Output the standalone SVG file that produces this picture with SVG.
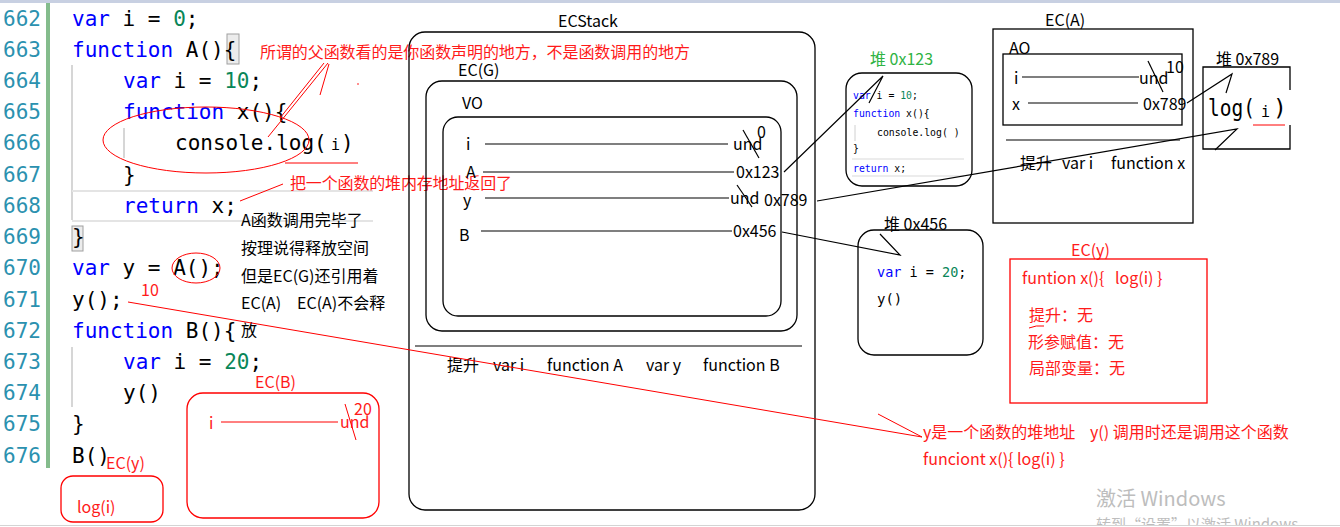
<svg xmlns="http://www.w3.org/2000/svg" width="1340" height="527" viewBox="0 0 1340 527">
<style>
.code{font-family:"DejaVu Sans Mono",monospace;font-size:21px;fill:#000}
.ln{font-family:"DejaVu Sans Mono",monospace;font-size:21px;fill:#2b91af}
.kw{fill:#0000ff}
.num{fill:#098658}
.lbl{font-family:"Noto Sans CJK SC",sans-serif;font-size:16px;fill:#000}
.red{font-family:"Noto Sans CJK SC",sans-serif;font-size:16px;fill:#ff1a1a}
.box{fill:none;stroke:#000;stroke-width:1.3}
.rbox{fill:none;stroke:#ff0000;stroke-width:1.3}
.ln1{stroke:#000;stroke-width:1.2;fill:none}
.rl{stroke:#ff0000;stroke-width:1;fill:none}
.guide{stroke:#c8c8c8;stroke-width:1.5}
.tiny{font-family:"DejaVu Sans Mono",monospace;font-size:9.8px;fill:#000}
.wm{font-family:"Noto Sans CJK SC",sans-serif;fill:#bdbdbd}
</style>
<rect width="1340" height="527" fill="#fff"/>
<rect x="0" y="0" width="1340" height="3" fill="#c8d0e2"/>
<rect x="46" y="3" width="4" height="465" fill="#84bc8c"/>

<g id="code">
<rect x="227" y="34" width="12" height="30" fill="#ececec" stroke="#a0a0a0"/>
<rect x="72" y="226" width="11" height="25" fill="#ececec" stroke="#a0a0a0"/>
<line class="guide" x1="72" y1="65" x2="72" y2="220"/>
<line class="guide" x1="124" y1="128" x2="124" y2="158"/>
<line class="guide" x1="72" y1="347" x2="72" y2="407"/>
<line x1="72" y1="191" x2="373" y2="191" stroke="#e4e4e4" stroke-width="2"/>
<line x1="72" y1="221" x2="373" y2="221" stroke="#e4e4e4" stroke-width="2"/>
<text class="ln" x="3" y="26">662</text>
<text class="ln" x="3" y="57">663</text>
<text class="ln" x="3" y="88">664</text>
<text class="ln" x="3" y="119">665</text>
<text class="ln" x="3" y="150">666</text>
<text class="ln" x="3" y="182">667</text>
<text class="ln" x="3" y="213">668</text>
<text class="ln" x="3" y="244">669</text>
<text class="ln" x="3" y="275">670</text>
<text class="ln" x="3" y="307">671</text>
<text class="ln" x="3" y="338">672</text>
<text class="ln" x="3" y="369">673</text>
<text class="ln" x="3" y="400">674</text>
<text class="ln" x="3" y="431">675</text>
<text class="ln" x="3" y="463">676</text>
<text class="code" x="72" y="26"><tspan class="kw">var</tspan> i = <tspan class="num">0</tspan>;</text>
<text class="code" x="72" y="57"><tspan class="kw">function</tspan> A(){</text>
<text class="code" x="123" y="88"><tspan class="kw">var</tspan> i = <tspan class="num">10</tspan>;</text>
<text class="code" x="123" y="119"><tspan class="kw">function</tspan> x(){</text>
<text class="code" x="175" y="150">console.log(<tspan x="331" font-size="15">i</tspan><tspan x="341">)</tspan></text>
<text class="code" x="123" y="182">}</text>
<text class="code" x="123" y="213"><tspan class="kw">return</tspan> x;</text>
<text class="code" x="72" y="244">}</text>
<text class="code" x="72" y="275"><tspan class="kw">var</tspan> y = A();</text>
<text class="code" x="72" y="307">y();</text>
<text class="code" x="72" y="338"><tspan class="kw">function</tspan> B(){</text>
<text class="code" x="123" y="369"><tspan class="kw">var</tspan> i = <tspan class="num">20</tspan>;</text>
<text class="code" x="123" y="400">y()</text>
<text class="code" x="72" y="431">}</text>
<text class="code" x="72" y="463">B()</text>
</g>

<g id="notes-left">
<text class="red" x="260" y="58" textLength="430">所谓的父函数看的是你函数声明的地方，不是函数调用的地方</text>
<line class="rl" x1="328" y1="63" x2="268" y2="137"/>
<line class="rl" x1="324" y1="63" x2="280" y2="118"/>
<line class="rl" x1="329" y1="64" x2="320" y2="95"/>
<circle cx="358" cy="84" r="0.8" fill="#f00"/>
<ellipse class="rl" cx="206" cy="140" rx="103" ry="33"/>
<line class="rl" x1="285" y1="163" x2="358" y2="163"/>
<text class="red" x="290" y="189" textLength="222">把一个函数的堆内存地址返回了</text>
<line class="rl" x1="283" y1="184" x2="240" y2="201"/>
<text class="lbl" x="241" y="226">A函数调用完毕了</text>
<text class="lbl" x="241" y="254">按理说得释放空间</text>
<text class="lbl" x="241" y="282">但是EC(G)还引用着</text>
<text class="lbl" x="241" y="309">EC(A)<tspan x="297">EC(A)不会释</tspan></text>
<text class="lbl" x="241" y="336">放</text>
<ellipse class="rl" cx="196" cy="268" rx="24" ry="15"/>
<text class="red" x="141" y="296" font-size="15">10</text>
</g>

<g id="ec-b">
<text class="red" x="255" y="388">EC(B)</text>
<rect class="rbox" x="187" y="393" width="192" height="125" rx="16"/>
<text class="red" x="209" y="429">i</text>
<line class="rl" x1="221" y1="422" x2="338" y2="422"/>
<text class="red" x="340" y="428">und</text>
<text class="red" x="354" y="415">20</text>
<line class="rl" x1="345" y1="404" x2="356" y2="440"/>
</g>

<g id="ec-y-small">
<text class="red" x="106" y="469">EC(y)</text>
<rect class="rbox" x="61" y="476" width="102" height="46" rx="12"/>
<text class="red" x="77" y="513">log(i)</text>
</g>

<g id="ecstack">
<text class="lbl" x="558" y="27">ECStack</text>
<rect class="box" x="409" y="32" width="406" height="478" rx="16"/>
<line class="ln1" x1="415" y1="346" x2="802" y2="346"/>
<text class="lbl" y="371"><tspan x="447">提升</tspan><tspan x="493">var i</tspan><tspan x="547">function A</tspan><tspan x="646">var y</tspan><tspan x="703">function B</tspan></text>
</g>

<g id="ec-g">
<text class="lbl" x="458" y="76">EC(G)</text>
<rect class="box" x="426" y="81" width="371" height="250" rx="16"/>
</g>

<g id="vo">
<text class="lbl" x="462" y="109">VO</text>
<rect class="box" x="443" y="117" width="338" height="199" rx="15"/>
<text class="lbl" x="466" y="150">i</text>
<line class="ln1" x1="485" y1="144" x2="728" y2="144"/>
<text class="lbl" x="733" y="150">und</text>
<text class="lbl" x="757" y="138">0</text>
<line class="ln1" x1="743" y1="130" x2="759" y2="158" stroke-width="0.8"/>
<text class="lbl" x="466" y="178">A</text>
<line class="ln1" x1="483" y1="172" x2="734" y2="172"/>
<text class="lbl" x="736" y="178">0x123</text>
<text class="lbl" x="463" y="206">y</text>
<line class="ln1" x1="485" y1="198" x2="729" y2="198"/>
<text class="lbl" x="730" y="204">und</text>
<text class="lbl" x="764" y="206">0x789</text>
<line class="ln1" x1="737" y1="185" x2="752" y2="207" stroke-width="0.8"/>
<text class="lbl" x="459" y="241">B</text>
<line class="ln1" x1="481" y1="231" x2="732" y2="231"/>
<text class="lbl" x="733" y="237">0x456</text>
</g>

<g id="heap-123">
<text class="lbl" x="870" y="65" fill="#2fb344" style="fill:#2fb344">堆 0x123</text>
<rect class="box" x="846" y="73" width="126" height="113" rx="16"/>
<line x1="852" y1="159" x2="964" y2="159" stroke="#e6e6e6" stroke-width="1.5"/>
<line x1="852" y1="176" x2="964" y2="176" stroke="#e6e6e6" stroke-width="1.5"/>
<line x1="855" y1="125" x2="855" y2="141" stroke="#d0d0d0"/>
<text class="tiny" x="853" y="99"><tspan class="kw">var</tspan> i = <tspan class="num">10</tspan>;</text>
<text class="tiny" x="853" y="117"><tspan class="kw">function</tspan> x(){</text>
<text class="tiny" x="877" y="136">console.log( )</text>
<text class="tiny" x="853" y="152">}</text>
<text class="tiny" x="853" y="172"><tspan class="kw">return</tspan> x;</text>
</g>

<g id="ec-a">
<text class="lbl" x="1045" y="26">EC(A)</text>
<rect class="box" x="993" y="29" width="200" height="194"/>
<text class="lbl" x="1009" y="54">AO</text>
<rect class="box" x="1003" y="54" width="179" height="71"/>
<text class="lbl" x="1014" y="84">i</text>
<line class="ln1" x1="1022" y1="77" x2="1139" y2="77"/>
<text class="lbl" x="1139" y="84">und</text>
<text class="lbl" x="1166" y="73">10</text>
<line class="ln1" x1="1148" y1="61" x2="1163" y2="92" stroke-width="0.8"/>
<text class="lbl" x="1012" y="110">x</text>
<line class="ln1" x1="1028" y1="103" x2="1138" y2="103"/>
<text class="lbl" x="1143" y="110">0x789</text>
<line class="ln1" x1="1006" y1="140" x2="1180" y2="140"/>
<text class="lbl" y="169"><tspan x="1020">提升</tspan><tspan x="1062">var i</tspan><tspan x="1111">function x</tspan></text>
</g>

<g id="heap-789">
<text class="lbl" x="1216" y="65">堆 0x789</text>
<path class="box" d="M1290,90 V67 H1203 V149 H1290 V125"/>
<text x="1208" y="116" font-family="DejaVu Sans Mono,monospace" font-size="23" textLength="47" lengthAdjust="spacingAndGlyphs">log(</text>
<text x="1261" y="117" font-family="DejaVu Sans Mono,monospace" font-size="15">i</text>
<text x="1273" y="116" font-family="DejaVu Sans Mono,monospace" font-size="23">)</text>
<line class="rl" x1="1253" y1="125" x2="1285" y2="125"/>
</g>

<g id="heap-456">
<rect class="box" x="858" y="230" width="125" height="125" rx="16"/>
<text class="lbl" x="884" y="230">堆 0x456</text>
<text x="877" y="277" font-family="DejaVu Sans Mono,monospace" font-size="13.5"><tspan class="kw">var</tspan> i = <tspan class="num">20</tspan>;</text>
<text x="877" y="304" font-family="DejaVu Sans Mono,monospace" font-size="14">y()</text>
</g>

<g id="ec-y">
<text class="red" x="1071" y="256">EC(y)</text>
<rect class="rbox" x="1010" y="259" width="197" height="144"/>
<text class="red" y="284"><tspan x="1022">funtion x(){</tspan><tspan x="1115">log(i) }</tspan></text>
<text class="red" x="1029" y="321">提升：无</text>
<path class="rl" d="M1029,328 Q1036,325 1044,326"/>
<text class="red" x="1028" y="348">形参赋值：无</text>
<text class="red" x="1029" y="374">局部变量：无</text>
</g>

<g id="connectors">
<path class="ln1" d="M784,172 L883,76 L869,103"/>
<path class="ln1" d="M817,201 L1237,129 L1215,150"/>
<path class="ln1" d="M1187,103 L1232,74 L1226,93"/>
<path class="ln1" d="M782,232 L900,255 L880,234"/>
<path class="rl" d="M128,302 L922,437 L878,414"/>
</g>

<g id="note-bottom">
<text class="red" y="438"><tspan x="923">y是一个函数的堆地址</tspan><tspan x="1090">y() 调用时还是调用这个函数</tspan></text>
<text class="red" x="923" y="465">funciont x(){ log(i) }</text>
</g>

<g id="watermark">
<text class="wm" x="1096" y="506" font-size="20">激活 Windows</text>
<text class="wm" x="1096" y="530" font-size="15">转到“设置”以激活 Windows。</text>
<rect x="0" y="525" width="1340" height="2" fill="#fff"/>
<line x1="0" y1="525.5" x2="1340" y2="525.5" stroke="#d4d4d4"/>
</g>
</svg>
